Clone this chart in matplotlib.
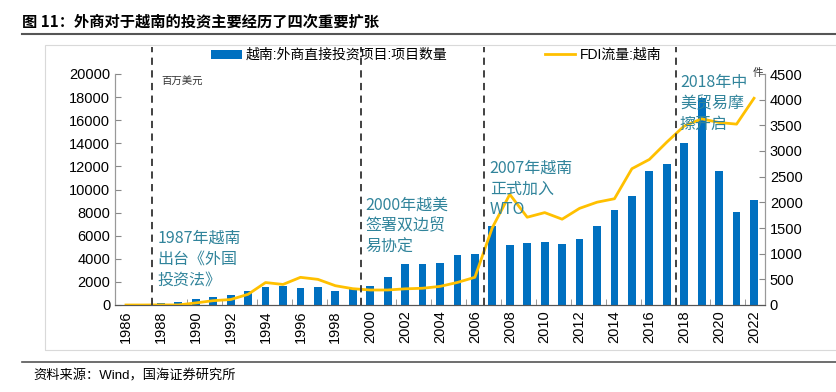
import numpy as np
import matplotlib
matplotlib.use("Agg")
import matplotlib.pyplot as plt
from matplotlib.lines import Line2D
from matplotlib.patches import Patch, Rectangle
import matplotlib.transforms as mtransforms

plt.rcParams['font.family'] = ['Liberation Sans', 'Noto Sans CJK SC']

# data
years = list(range(1986, 2023))
fdi_flow = [0, 0, 8, 4, 180, 375, 474, 926, 1945, 1780, 2395, 2220, 1671, 1412,
            1298, 1300, 1400, 1450, 1610, 1954, 2400, 6700, 9579, 7600, 8000,
            7430, 8368, 8900, 9200, 11800, 12600, 14100, 15500, 16120, 15800,
            15660, 17900]
proj_years = list(range(1988, 2023))
proj_count = [37, 68, 108, 151, 197, 269, 343, 370, 325, 345, 275, 311, 371,
              555, 808, 791, 811, 970, 987, 1544, 1171, 1208, 1237, 1186, 1287,
              1530, 1843, 2120, 2613, 2741, 3147, 4028, 2610, 1818, 2036]
event_x = [1987.5, 1999.5, 2006.5, 2017.5]
event_text = ["1987年越南\n出台《外国\n投资法》", "2000年越美\n签署双边贸\n易协定",
              "2007年越南\n正式加入\nWTO", "2018年中\n美贸易摩\n擦开启"]
event_pos = [(1987.8, 6500), (1999.7, 9400), (2006.85, 12600), (2017.75, 20000)]
bar_label = "越南:外商直接投资项目:项目数量"
line_label = "FDI流量:越南"

blue = "#0070C0"
gold = "#FFC000"
teal = "#31849B"
cjk = ['Noto Sans CJK SC']

fig = plt.figure(figsize=(8.37, 3.92), dpi=100)

# title, rules and source
fig.text(22/837, 1-22/392, "图 11：外商对于越南的投资主要经历了四次重要扩张",
         family=cjk, fontsize=11, fontweight='bold', va='center', ha='left')
fig.add_artist(Line2D([22/837, 1], [1-34/392]*2, color="#555555", lw=1.5))
fig.add_artist(Line2D([22/837, 1], [1-362/392]*2, color="#555555", lw=1.2))
fig.text(33/837, 1-376/392, "资料来源：Wind，国海证券研究所", fontsize=9.5,
         va='center', ha='left')
fig.add_artist(Rectangle((45/837, 1-350/392), 1, (350-45)/392, fill=False,
                         edgecolor="#D9D9D9", lw=0.8))

ax = fig.add_axes([115/837, 1-305/392, 650/837, 231/392])
ax2 = ax.twinx()
ax.set_zorder(ax2.get_zorder() + 1)
ax.patch.set_visible(False)

ax2.bar(proj_years, proj_count, width=0.45, color=blue)
ax.plot(years, fdi_flow, color=gold, lw=2)

ax.set_xlim(1985.37, 2022.63)
ax.set_ylim(0, 20000)
ax2.set_ylim(0, 4500)
ax.set_yticks(np.arange(0, 20001, 2000))
ax2.set_yticks(np.arange(0, 4501, 500))
ax.set_xticks(range(1986, 2023, 2))
ax.set_xticklabels([str(y) for y in range(1986, 2023, 2)], rotation=90)
ax.set_xticks(np.arange(1987.5, 2023, 2), minor=True)
ax.tick_params(axis='x', which='major', length=0, labelsize=10.5, pad=4)
ax.tick_params(axis='x', which='minor', length=4, direction='in', color="#888888")
ax.tick_params(axis='y', labelsize=10.5, direction='in', length=4, color="#888888")
ax2.tick_params(axis='y', labelsize=10.5, direction='in', length=4, color="#888888")

for a in (ax, ax2):
    a.spines['top'].set_visible(False)
    a.spines['left'].set_color("#999999")
    a.spines['right'].set_color("#999999")
    a.spines['bottom'].set_color("#555555")

# event markers
trans = mtransforms.blended_transform_factory(ax.transData, ax.transAxes)
for x in event_x:
    ax.plot([x, x], [0, 1.117], transform=trans, clip_on=False,
            color="#333333", lw=1.3, ls=(0, (4, 3)))
for (x, y), t in zip(event_pos, event_text):
    ax.text(x, y, t, family=cjk, fontsize=11.5, color=teal, va='top',
            ha='left', linespacing=1.3)

ax.text(1988.0, 19300, "百万美元", family=cjk, fontsize=7.5, color="#333333",
        va='center')
ax.text(2021.9, 20100, "件", family=cjk, fontsize=7.5, color="#333333",
        va='center')

handles = [Patch(facecolor=blue), Line2D([], [], color=gold, lw=2)]
fig.legend(handles, [bar_label, line_label], loc='center',
           bbox_to_anchor=(436/837, 1-55/392), ncol=2, frameon=False,
           columnspacing=7, handlelength=2.2, handleheight=0.6,
           handletextpad=0.3, prop={'family': ['Liberation Sans', 'Noto Sans CJK SC'], 'size': 10})

fig.savefig("out.png", dpi=100)
